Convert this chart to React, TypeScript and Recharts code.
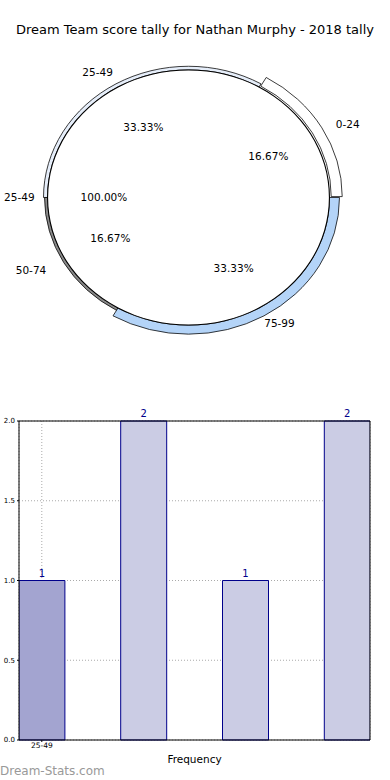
import React from "react";
import { PieChart, Pie, Cell, BarChart, Bar, XAxis, YAxis, CartesianGrid, LabelList } from "recharts";

const titleText = "Dream Team score tally for Nathan Murphy - 2018 tally";
const innerNames = ["25-49"];
const innerValues = [1];
const outerNames = ["0-24", "25-49", "50-74", "75-99"];
const outerValues = [1, 2, 1, 2];
const barCategories = ["0-24", "25-49", "50-74", "75-99"];
const barValues = [1, 2, 1, 2];
const xTickLabels = ["25-49"];
const yTicks = [0, 0.5, 1, 1.5, 2];
const xAxisTitle = "Frequency";
const watermark = "Dream-Stats.com";

const FONT = "'DejaVu Sans', sans-serif";
const SY = 0.905;
const CX = 188.5;
const CY = 197.5 / SY;
const R = 141;
const outerColors = ["#ffffff", "#e6eefa", "#8a8a8a", "#b4d4f8"];
const outerThickness = [11, 4, 3, 10];
const explode = [2, 0, 0, 0];
const barColors = ["#a3a4d0", "#cbcce4", "#cbcce4", "#cbcce4"];

const innerData = innerNames.map((n, i) => ({ name: n, value: innerValues[i] }));
const outerData = outerNames.map((n, i) => ({ name: n, value: outerValues[i] }));
const barData = barCategories.map((c, i) => ({ pos: i, name: c, value: barValues[i] }));

const outerTotal = outerValues.reduce((a, b) => a + b, 0);
const midAngles = outerValues.map((v, i) => {
  const before = outerValues.slice(0, i).reduce((a, b) => a + b, 0);
  return ((before + v / 2) / outerTotal) * 360;
});

const Txt = ({ x, y, children }: any) => (
  <g transform={`translate(${x},${y}) scale(1,${1 / SY})`}>
    <text x={0} y={0} textAnchor="middle" dominantBaseline="central" fontFamily={FONT} fontSize={10.5} fill="#000">
      {children}
    </text>
  </g>
);

const makeLabel = (pf: number, nfx: number, nfy: number, only?: number) => (props: any) => {
  const { cx, cy, midAngle, percent, index } = props;
  if (only !== undefined && index !== only) return null;
  const name = props.name ?? (props.payload && props.payload.name);
  const a = (-midAngle * Math.PI) / 180;
  const px = cx + pf * R * Math.cos(a);
  const py = cy + pf * R * Math.sin(a);
  const nx = cx + nfx * R * Math.cos(a);
  const ny = cy + nfy * R * Math.sin(a);
  return (
    <g>
      <Txt x={px} y={py}>{(percent * 100).toFixed(2) + "%"}</Txt>
      <Txt x={nx} y={ny}>{name}</Txt>
    </g>
  );
};

export default function App() {
  return (
    <div style={{ position: "absolute", left: 0, top: 0, width: 390, height: 780, background: "#fff", overflow: "hidden" }}>
      <div style={{ position: "absolute", left: 0, top: 0, width: 390, height: 440, transform: `scaleY(${SY})`, transformOrigin: "0 0" }}>
        <PieChart width={390} height={440} margin={{ top: 0, right: 0, bottom: 0, left: 0 }}>
          {outerNames.map((_, k) => {
            const a = (midAngles[k] * Math.PI) / 180;
            return (
              <Pie
                key={k}
                data={outerData}
                dataKey="value"
                nameKey="name"
                cx={CX + explode[k] * Math.cos(a)}
                cy={CY - explode[k] * Math.sin(a)}
                innerRadius={R}
                outerRadius={R + outerThickness[k]}
                startAngle={0}
                endAngle={360}
                isAnimationActive={false}
                labelLine={false}
                label={makeLabel(0.64, 1.29, 1.14, k)}
              >
                {outerData.map((d, i) => (
                  <Cell key={i} fill={i === k ? outerColors[i] : "none"} stroke={i === k ? "#000" : "none"} strokeWidth={0.8} />
                ))}
              </Pie>
            );
          })}
          <Pie
            data={innerData}
            dataKey="value"
            nameKey="name"
            cx={CX}
            cy={CY}
            innerRadius={0}
            outerRadius={R}
            startAngle={0}
            endAngle={360}
            isAnimationActive={false}
            labelLine={false}
            label={makeLabel(0.6, 1.2, 1.2)}
          >
            {innerData.map((d, i) => (
              <Cell key={i} fill="#ffffff" stroke="none" />
            ))}
          </Pie>
          <Pie
            data={innerData}
            dataKey="value"
            nameKey="name"
            cx={CX}
            cy={CY}
            innerRadius={R - 0.6}
            outerRadius={R + 0.5}
            startAngle={0}
            endAngle={360}
            isAnimationActive={false}
            label={false}
          >
            {innerData.map((d, i) => (
              <Cell key={i} fill="#000" stroke="none" />
            ))}
          </Pie>
        </PieChart>
      </div>
      <div style={{ position: "absolute", left: 0, top: 22, width: 390, textAlign: "center", fontFamily: FONT, fontSize: 13, lineHeight: "16px", color: "#000", whiteSpace: "nowrap" }}>
        {titleText}
      </div>
      <div style={{ position: "absolute", left: 0, top: 400 }}>
        <BarChart width={390} height={380} data={barData} margin={{ top: 0, right: 0, bottom: 0, left: 0 }}>
          <CartesianGrid stroke="#aaa" strokeDasharray="1 2" />
          <XAxis
            dataKey="pos"
            type="number"
            domain={[-0.224, 3.224]}
            ticks={[0]}
            allowDataOverflow
            tickFormatter={(v: number) => xTickLabels[v] ?? ""}
            height={40}
            axisLine={{ stroke: "#000" }}
            tickLine={{ stroke: "#000" }}
            tickSize={2}
            tickMargin={1}
            tick={{ fontSize: 7.5, fill: "#000", fontFamily: FONT }}
            label={{ value: xAxisTitle, position: "insideTop", offset: 16, fontSize: 10.5, fill: "#000", fontFamily: FONT }}
          />
          <XAxis xAxisId="top" orientation="top" dataKey="pos" type="number" domain={[-0.224, 3.224]} allowDataOverflow height={21} tick={false} tickLine={false} axisLine={{ stroke: "#000" }} />
          <YAxis
            domain={[0, 2]}
            ticks={yTicks}
            width={19}
            tickFormatter={(v: number) => v.toFixed(1)}
            axisLine={{ stroke: "#000" }}
            tickLine={{ stroke: "#000" }}
            tickSize={2}
            tickMargin={2}
            tick={{ fontSize: 7, fill: "#000", fontFamily: FONT }}
          />
          <YAxis yAxisId="right" orientation="right" domain={[0, 2]} ticks={yTicks} width={20} tick={false} tickLine={false} axisLine={{ stroke: "#000" }} />
          <Bar dataKey="value" barSize={46} stroke="#00008b" strokeWidth={1} isAnimationActive={false}>
            {barData.map((d, i) => (
              <Cell key={i} fill={barColors[i]} />
            ))}
            <LabelList dataKey="value" position="top" offset={4} fill="#00008b" fontSize={10} fontFamily={FONT} />
          </Bar>
        </BarChart>
      </div>
      <div style={{ position: "absolute", left: 0, top: 764, fontFamily: FONT, fontSize: 12, color: "#999", whiteSpace: "nowrap", lineHeight: "14px" }}>
        {watermark}
      </div>
    </div>
  );
}
